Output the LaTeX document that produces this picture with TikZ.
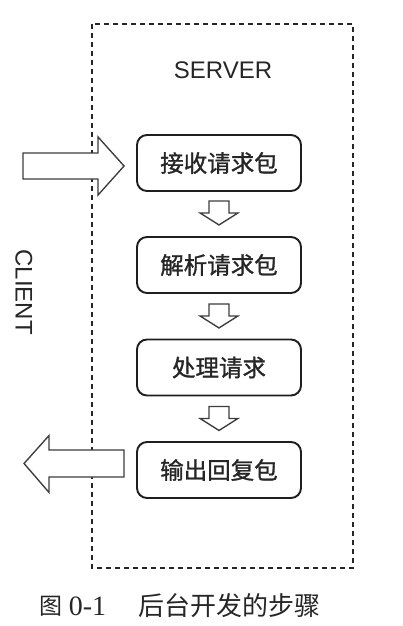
\documentclass[tikz,border=0pt]{standalone}
\usepackage{fontspec}
\setmainfont{Liberation Serif}
\setsansfont{Liberation Sans}
\newfontfamily\cjk[AutoFakeBold=1.2]{Noto Sans CJK SC}
\usetikzlibrary{calc}
\definecolor{ink}{HTML}{262626}
\definecolor{boxline}{HTML}{1E1E1E}
\definecolor{arrline}{HTML}{3C3C3C}
\tikzset{
  stepbox/.style={draw=boxline, line width=1.9pt, rounded corners=10pt,
    minimum width=164pt, minimum height=56pt, inner sep=0pt,
    font=\cjk\bfseries\fontsize{23.5}{23.5}\selectfont, text=ink},
  lbl/.style={font=\sffamily\fontsize{24}{24}\selectfont, text=ink, inner sep=0pt},
  serverframe/.style={draw=ink, line width=1.3pt, dash pattern=on 5pt off 4pt},
  blockarrow/.style={draw=arrline, line width=1.35pt, fill=white, line join=miter},
  downarrow/.pic={
    \draw[blockarrow] (-10,0) -- (10,0) -- (10,12) -- (19,12) -- (0,24)
      -- (-19,12) -- (-10,12) -- cycle;
  }
}
\begin{document}
\begin{tikzpicture}[x=1pt,y=-1pt]
\useasboundingbox (0,0) rectangle (402,626);
% server frame
\draw[serverframe] (92,24) rectangle (353,568);
\node[lbl] (server) at (223,70) {SERVER};
\node[lbl, rotate=-90] (client) at (24,292) {CLIENT};
% steps
\node[stepbox] (s1) at (219,163) {接收请求包};
\node[stepbox] (s2) at (219,265) {解析请求包};
\node[stepbox] (s3) at (219,367.5) {处理请求};
\node[stepbox] (s4) at (219,470) {输出回复包};
% small arrows between steps
\path (s1.south) ++(0,9) pic {downarrow};
\path (s2.south) ++(0,10) pic {downarrow};
\path (s3.south) ++(0,10) pic {downarrow};
% incoming arrow (client -> receive)
\coordinate (intip) at ($(s1.west)+(-12,3)$);
\draw[blockarrow] ($(intip)+(-101,-13)$) -- ($(intip)+(-26,-13)$) -- ($(intip)+(-26,-29)$)
  -- (intip) -- ($(intip)+(-26,29)$) -- ($(intip)+(-26,13)$) -- ($(intip)+(-101,13)$) -- cycle;
% outgoing arrow (output -> client)
\coordinate (outtail) at ($(s4.west)+(-12,-6.5)$);
\coordinate (outtip) at ($(outtail)+(-100,0)$);
\draw[blockarrow] (outtail) ++(0,-13.5) -- ($(outtip)+(25,-13.5)$) -- ($(outtip)+(25,-28)$)
  -- (outtip) -- ($(outtip)+(25,29)$) -- ($(outtip)+(25,13.5)$) -- ($(outtail)+(0,13.5)$) -- cycle;
% caption
\node[font=\cjk\fontsize{23}{23}\selectfont, text=ink, inner sep=0pt] (fig) at (51,606) {图};
\node[font=\rmfamily\fontsize{28}{28}\selectfont, text=ink, inner sep=0pt] (num) at (87.5,606) {0-1};
\node[font=\cjk\fontsize{26}{26}\selectfont, text=ink, inner sep=0pt] (cap) at (229,606) {后台开发的步骤};
\end{tikzpicture}
\end{document}
